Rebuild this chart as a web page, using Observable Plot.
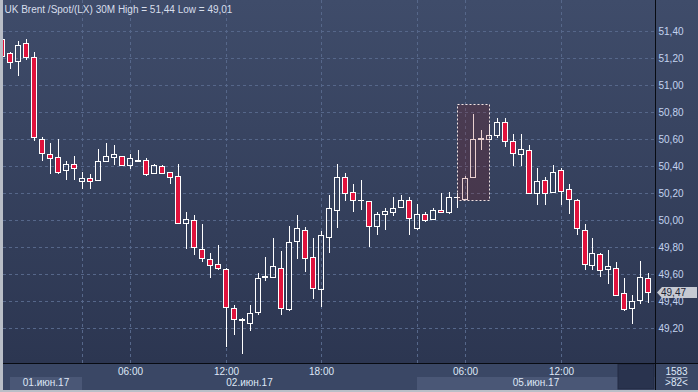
<!DOCTYPE html>
<html><head><meta charset="utf-8">
<script src="https://cdn.jsdelivr.net/npm/d3@7"></script>
<script src="https://cdn.jsdelivr.net/npm/@observablehq/plot@0.6"></script>
<style>
html,body{margin:0;padding:0;background:#b9bec7;}
#wrap{position:relative;width:698px;height:392px;overflow:hidden;background:#b9bec7;}
.bg{position:absolute;}
#plotbg{left:3px;top:0;width:652px;height:363px;background:linear-gradient(#3f4c6a,#2c3651);}
#axisbg{left:656px;top:0;width:42px;height:363px;background:linear-gradient(#3f4c6a,#2c3651);}
#bottombg{left:3px;top:364px;width:695px;height:26px;background:#3a4765;}
#chart{position:absolute;left:0;top:0;}
</style></head>
<body>
<div id="wrap">
  <div class="bg" id="plotbg"></div>
  <div class="bg" id="axisbg"></div>
  <div class="bg" id="bottombg"></div>
  <div id="chart"></div>
</div>
<script>
// ---- data (30-minute candles, UK Brent) ----
const open  = [51.34,51.24,51.18,51.31,51.21,50.60,50.49,50.47,50.37,50.42,
               50.29,50.31,50.30,50.44,50.47,50.48,50.41,50.44,50.45,50.35,
               50.40,50.36,50.33,49.98,50.00,49.79,49.71,49.68,49.64,49.35,
               49.26,49.24,49.32,49.58,49.58,49.65,49.34,49.85,49.93,49.73,
               49.49,49.88,50.08,50.32,50.21,50.15,50.14,49.96,50.05,50.06,
               50.10,50.15,49.94,50.05,50.01,50.08,50.06,50.17,50.16,50.32,
               50.60,50.60,50.63,50.73,50.59,50.49,50.52,50.20,50.30,50.21,
               50.37,50.23,50.15,49.93,49.67,49.75,49.64,49.65,49.46,49.35,
               49.41,49.57];
const high  = [51.44,51.25,51.33,51.34,51.25,50.62,50.57,50.60,50.44,50.48,
               50.36,50.34,50.53,50.57,50.56,50.48,50.49,50.52,50.46,50.42,
               50.41,50.36,50.42,50.06,50.04,49.97,49.76,49.82,49.65,49.37,
               49.28,49.37,49.61,49.73,49.87,49.77,49.96,50.04,49.95,49.87,
               49.92,50.19,50.42,50.35,50.27,50.30,50.14,50.06,50.09,50.17,
               50.19,50.17,50.12,50.06,50.09,50.20,50.21,50.20,50.33,50.79,
               50.67,50.71,50.76,50.76,50.64,50.64,50.56,50.39,50.32,50.41,
               50.39,50.27,50.16,49.97,49.87,49.76,49.78,49.69,49.57,49.45,
               49.70,49.61];
const low   = [51.20,51.12,51.07,51.19,50.59,50.44,50.34,50.34,50.30,50.30,
               50.23,50.23,50.29,50.43,50.41,50.40,50.38,50.44,50.33,50.35,
               50.34,50.27,49.97,49.79,49.74,49.69,49.57,49.63,49.06,49.15,
               49.01,49.18,49.30,49.55,49.57,49.30,49.33,49.71,49.62,49.42,
               49.36,49.76,49.94,50.14,50.06,50.08,49.80,49.89,49.93,50.03,
               50.09,49.89,49.93,49.99,50.00,50.06,50.05,50.09,50.15,50.31,
               50.52,50.60,50.61,50.54,50.40,50.40,50.20,50.11,50.11,50.20,
               50.11,50.05,49.89,49.63,49.63,49.58,49.53,49.44,49.33,49.23,
               49.38,49.39];
const close = [51.22,51.17,51.30,51.21,50.62,50.50,50.46,50.36,50.42,50.39,
               50.31,50.29,50.44,50.48,50.49,50.41,50.46,50.45,50.34,50.41,
               50.35,50.32,49.98,50.01,49.80,49.72,49.67,49.65,49.36,49.27,
               49.27,49.31,49.57,49.59,49.66,49.35,49.84,49.94,49.72,49.50,
               49.89,50.09,50.32,50.20,50.15,50.15,49.96,50.05,50.07,50.09,
               50.15,50.02,50.05,50.00,50.08,50.06,50.17,50.17,50.31,50.60,
               50.61,50.63,50.73,50.59,50.50,50.53,50.20,50.29,50.20,50.36,
               50.22,50.16,49.94,49.68,49.76,49.63,49.66,49.45,49.34,49.40,
               49.58,49.47];
const yTicks = [49.2,49.4,49.6,49.8,50.0,50.2,50.4,50.6,50.8,51.0,51.2,51.4];
const timeTickIdx    = [16,28,40,58,70];
const timeTickLabels = ["06:00","12:00","18:00","06:00","12:00"];
const dayStartIdx = [0,10,52];
const dayEndIdx   = [10,52,82];
const dayLabels   = ["01.июн.17","02.июн.17","05.июн.17"];
const highlight = {from: 57, to: 61, hi: 50.86, lo: 50.15};
const instrument = "UK Brent /Spot/(LX) 30M";
const barsTotal = 1583;

// ---- layout / style ----
const W = 698, H = 392, ML = 3, MR = 43, MB = 29;
const FONT = "'Liberation Sans', Arial, sans-serif";
const RED = "#e0123c";
const GRID = "#56678a";
const fmt = v => v.toFixed(2).replace(".", ",");

const candles = open.map((o, i) => ({
  i, o, h: high[i], l: low[i], c: close[i],
  up: close[i] >= o, top: Math.max(o, close[i]), bot: Math.min(o, close[i])
}));
const isDoji = d => Math.abs(d.o - d.c) < 0.001;
const redBodies = candles.filter(d => !d.up && !isDoji(d));
const whiteBodies = candles.filter(d => d.up && !isDoji(d));
const dojis = candles.filter(isDoji);
const vGrid = [dayStartIdx[1], dayStartIdx[2], ...timeTickIdx];
const titleText = `${instrument} High = ${fmt(d3.max(high))} Low = ${fmt(d3.min(low))}`;

function chrome(index, scales, values, dim) {
  const x = scales.x;
  const {width, height, marginLeft, marginRight, marginBottom} = dim;
  const fx0 = marginLeft, fx1 = width - marginRight, fy1 = height - marginBottom;
  const g = d3.create("svg:g").attr("font-family", FONT).attr("font-size", 10);
  dayStartIdx.forEach((s, k) => {
    const xa = Math.max(x(s), fx0 + 7);
    const xb = Math.min(x(dayEndIdx[k]), fx1);
    if (k % 2 === 0) {
      g.append("rect").attr("x", xa).attr("y", fy1 + 14).attr("width", xb - xa).attr("height", 13)
        .attr("fill", "#4a5776");
    }
    g.append("text").attr("x", (xa + xb) / 2).attr("y", fy1 + 19).attr("dy", "0.35em")
      .attr("text-anchor", "middle").attr("fill", "#dfe7f7").text(dayLabels[k]);
  });
  // scroll thumb box
  g.append("rect").attr("x", fx1 - 37).attr("y", fy1 + 1).attr("width", 36).attr("height", 25)
    .attr("fill", "#29334e").attr("stroke", "#232b42");
  // separators
  g.append("line").attr("x1", fx0).attr("x2", width).attr("y1", fy1 + 0.5).attr("y2", fy1 + 0.5)
    .attr("stroke", "#080b12");
  g.append("line").attr("x1", fx1 + 0.5).attr("x2", fx1 + 0.5).attr("y1", 0).attr("y2", height - 2)
    .attr("stroke", "#080b12");
  // bar counters
  const cx = (fx1 + width) / 2;
  g.append("text").attr("x", cx).attr("y", fy1 + 8).attr("dy", "0.35em").attr("text-anchor", "middle")
    .attr("fill", "#dfe7f7").text(barsTotal);
  g.append("line").attr("x1", cx - 10).attr("x2", cx + 11).attr("y1", fy1 + 14.5).attr("y2", fy1 + 14.5)
    .attr("stroke", "#8f9bb3");
  g.append("text").attr("x", cx).attr("y", fy1 + 19.5).attr("dy", "0.35em").attr("text-anchor", "middle")
    .attr("fill", "#dfe7f7").text(`>${open.length}<`);
  return g.node();
}

function priceTag(index, scales, values, dim) {
  const y = scales.y;
  const last = close[close.length - 1];
  const yy = Math.round(y(last)) + 0.5;
  const x0 = dim.width - dim.marginRight + 2;
  const g = d3.create("svg:g").attr("font-family", FONT).attr("font-size", 10);
  g.append("path")
    .attr("d", `M${x0},${yy} L${x0 + 5},${yy - 5.5} H${dim.width - 1} V${yy + 5.5} H${x0 + 5} Z`)
    .attr("fill", "#c6cad3");
  g.append("text").attr("x", x0 + 4).attr("y", yy).attr("dy", "0.36em")
    .attr("text-anchor", "start").attr("fill", "#1b2233").text(fmt(last));
  return g.node();
}

const chart = Plot.plot({
  width: W, height: H,
  marginLeft: ML, marginRight: MR, marginTop: 0, marginBottom: MB,
  x: {domain: [0.085, 81.84], round: true, axis: null},
  y: {domain: [48.943, 51.632], round: true, axis: null},
  style: {background: "transparent", fontFamily: FONT, fontSize: "10px", overflow: "visible"},
  marks: [
    Plot.ruleY(yTicks, {y: d => d, stroke: GRID, strokeDasharray: "3,3"}),
    Plot.ruleX(vGrid, {x: d => d, stroke: GRID, strokeDasharray: "3,3"}),
    Plot.ruleX(candles, {x: "i", y1: "h", y2: "top", stroke: "white", clip: true}),
    Plot.ruleX(candles, {x: "i", y1: "bot", y2: "l", stroke: "white", clip: true}),
    Plot.rect(redBodies, {x1: "i", x2: "i", y1: "o", y2: "c", insetLeft: -2.5, insetRight: -2.5,
      dy: 0.5, fill: RED, stroke: "white", clip: true}),
    Plot.rect(whiteBodies, {x1: "i", x2: "i", y1: "o", y2: "c", insetLeft: -2.5, insetRight: -2.5,
      dy: 0.5, fill: "none", stroke: "white", clip: true}),
    Plot.ruleY(dojis, {x1: "i", x2: "i", y: "o", insetLeft: -3, insetRight: -3, stroke: "white"}),
    Plot.rect([highlight], {x1: "from", x2: "to", y1: "lo", y2: "hi", dx: 0.5, dy: 0.5,
      fill: "rgb(143,19,17)", fillOpacity: 0.2, stroke: "#f2e4e4", strokeDasharray: "2,2"}),
    Plot.text(yTicks, {x: 81.84, y: d => d, text: fmt, textAnchor: "start", dx: 3,
      fill: "#c3d3ef"}),
    Plot.text(timeTickIdx, {x: d => d, y: 48.943, text: (d, i) => timeTickLabels[i], dy: 8,
      fill: "#dfe7f7"}),
    Plot.text([titleText], {frameAnchor: "top-left", dx: 1, dy: 5, lineAnchor: "top",
      textAnchor: "start", fill: "#d7deeb"}),
    chrome,
    priceTag
  ]
});
document.getElementById("chart").appendChild(chart);
</script>
</body></html>
